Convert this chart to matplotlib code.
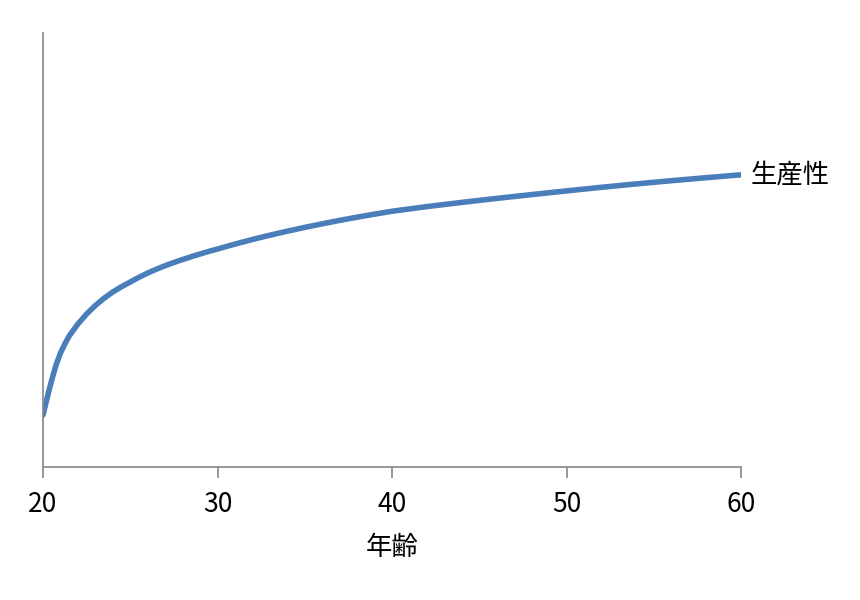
import matplotlib
import matplotlib.pyplot as plt

matplotlib.use("Agg")

plt.rcParams["font.family"] = ["Liberation Sans Narrow", "Noto Sans CJK JP", "DejaVu Sans"]

# productivity curve (arbitrary units, axis bottom = 0)
ages = [20, 20.25, 20.5, 20.75, 21, 21.25, 21.5, 22, 22.5, 23, 23.5, 24, 24.5,
        25, 25.5, 26, 26.5, 27, 27.5, 28, 28.5, 29, 29.5, 30, 31, 32, 33, 34,
        35, 36, 37, 38, 39, 40, 42, 44, 46, 48, 50, 52, 54, 56, 58, 60]
productivity = [52, 70, 87, 102, 114, 123, 131, 143, 153, 161.5, 168.8, 175,
                180.3, 185, 189.7, 194, 197.8, 201.3, 204.5, 207.5, 210.3, 213,
                215.6, 218, 222.9, 227.5, 231.8, 235.8, 239.6, 243.2, 246.6,
                249.8, 252.85, 255.75, 260.4, 264.6, 268.6, 272.4, 276.1,
                279.7, 283.1, 286.3, 289.3, 292.2]
x_ticks = [20, 30, 40, 50, 60]
series_label = "生産性"
x_label = "年齢"

AXIS_GREY = "#868686"
LINE_BLUE = "#4a7ebb"

fig = plt.figure(figsize=(8.6, 6.0), dpi=100)
ax = fig.add_axes([43 / 860, 1 - 467 / 600, 698 / 860, 434 / 600])

ax.plot(ages, productivity, color=LINE_BLUE, linewidth=4.0,
        solid_capstyle="round", solid_joinstyle="round")
ax.annotate(series_label, xy=(ages[-1], productivity[-1]), xytext=(7, 0),
            textcoords="offset points", va="center", ha="left",
            fontsize=19, family=["Noto Sans CJK JP", "DejaVu Sans"],
            annotation_clip=False)

ax.set_xlim(20, 60)
ax.set_ylim(0, 434)
ax.set_xticks(x_ticks)
ax.set_xticklabels([str(t) for t in x_ticks], fontsize=19)
ax.set_yticks([])
ax.tick_params(axis="x", direction="out", length=8, width=1.2,
               color=AXIS_GREY, pad=9)
ax.set_xlabel(x_label, fontsize=19, family=["Noto Sans CJK JP", "DejaVu Sans"],
              labelpad=12)

for side in ["top", "right"]:
    ax.spines[side].set_visible(False)
for side in ["left", "bottom"]:
    ax.spines[side].set_color(AXIS_GREY)
    ax.spines[side].set_linewidth(1.2)

fig.savefig("out.png", dpi=100)
plt.close(fig)
